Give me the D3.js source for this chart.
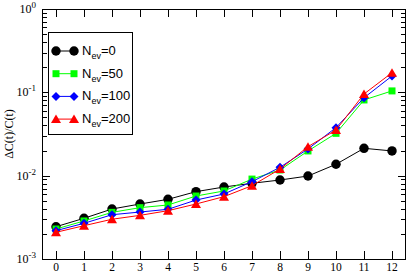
<!DOCTYPE html>
<html>
<head>
<meta charset="UTF-8">
<script src="https://cdn.jsdelivr.net/npm/d3@7"></script>
<style>
  body { margin: 0; background: #fff; }
  text { font-family: "Liberation Serif", serif; }
</style>
</head>
<body>
<svg width="409" height="274"></svg>
<script>
var steps = [0,1,2,3,4,5,6,7,8,9,10,11,12];
var nev0   = [2.44e-3,3.08e-3,3.98e-3,4.57e-3,5.2e-3,6.43e-3,7.31e-3,8.1e-3,8.87e-3,9.9e-3,1.37e-2,2.13e-2,1.98e-2];
var nev50  = [2.29e-3,2.86e-3,3.63e-3,4.13e-3,4.45e-3,5.7e-3,6.55e-3,9.1e-3,1.17e-2,1.98e-2,3.22e-2,8.1e-2,1.04e-1];
var nev100 = [2.19e-3,2.68e-3,3.4e-3,3.66e-3,3.95e-3,5.1e-3,6.03e-3,8.47e-3,1.26e-2,2.09e-2,3.77e-2,8.6e-2,1.57e-1];
var nev200 = [2.09e-3,2.51e-3,3.0e-3,3.34e-3,3.8e-3,4.57e-3,5.6e-3,7.59e-3,1.2e-2,2.23e-2,3.53e-2,9.55e-2,1.72e-1];
var seriesNames = ["0","50","100","200"];
var yTickExp = [-3,-2,-1,0];

var svg = d3.select("svg");
var marge = {top:9, bottom:15, left:42, right:3};
var W = 409 - marge.left - marge.right;
var H = 274 - marge.top - marge.bottom;
var g = svg.append("g").attr("transform","translate("+marge.left+","+marge.top+")");

var xScale = d3.scaleLinear().domain([-0.5,12.5]).range([0,W]);
var yScale = d3.scaleLog().domain([1e-3,1]).range([H,0]);

// minor log ticks
var minors = [];
yTickExp.slice(0,3).forEach(function(e){
  for (var k=2;k<=9;k++) minors.push(k*Math.pow(10,e));
});

var tk = g.append("g").attr("stroke","#000").attr("stroke-width",1);
steps.forEach(function(s){
  var x = Math.round(xScale(s))+0.5;
  tk.append("line").attr("x1",x).attr("x2",x).attr("y1",H).attr("y2",H-8);
  tk.append("line").attr("x1",x).attr("x2",x).attr("y1",0).attr("y2",8);
});
yTickExp.forEach(function(e){
  var y = Math.round(yScale(Math.pow(10,e)))+0.5;
  tk.append("line").attr("x1",0).attr("x2",8).attr("y1",y).attr("y2",y);
  tk.append("line").attr("x1",W).attr("x2",W-8).attr("y1",y).attr("y2",y);
});
minors.forEach(function(v){
  var y = Math.round(yScale(v))+0.5;
  tk.append("line").attr("x1",0).attr("x2",5).attr("y1",y).attr("y2",y);
  tk.append("line").attr("x1",W).attr("x2",W-5).attr("y1",y).attr("y2",y);
});

g.append("rect").attr("x",0.5).attr("y",0.5).attr("width",W-1).attr("height",H)
  .attr("fill","none").attr("stroke","#000").attr("stroke-width",1);

// tick labels
steps.forEach(function(s){
  g.append("text").attr("x",xScale(s)).attr("y",H+12)
    .attr("text-anchor","middle").attr("font-size",11.5).text(s);
});
yTickExp.forEach(function(e){
  var t = g.append("text").attr("x",-6).attr("y",yScale(Math.pow(10,e))+4)
    .attr("text-anchor","end").attr("font-size",12);
  t.append("tspan").text("10");
  t.append("tspan").attr("dy",-5).attr("font-size",9).text(e);
});

svg.append("text").attr("transform","translate(13,"+(marge.top+H/2)+") rotate(-90)")
  .attr("text-anchor","middle").attr("font-size",12).text("ΔC(t)/C(t)");

// series
var allSeries = [
  {name:seriesNames[0], vals:nev0,   color:"#000000", sym:"circle"},
  {name:seriesNames[1], vals:nev50,  color:"#00ff00", sym:"square"},
  {name:seriesNames[2], vals:nev100, color:"#0000ff", sym:"diamond"},
  {name:seriesNames[3], vals:nev200, color:"#ff0000", sym:"triangle"}
];
function symPath(type){
  if (type=="circle") return d3.symbol().type(d3.symbolCircle).size(70)();
  if (type=="square") return d3.symbol().type(d3.symbolSquare).size(49)();
  if (type=="diamond") return "M0,-4.5L4.5,0L0,4.5L-4.5,0Z";
  return "M0,-4.5L5,4L-5,4Z";
}
var line = d3.line().x(function(d,i){return xScale(steps[i]);}).y(function(d){return yScale(d);});

allSeries.forEach(function(s){
  g.append("path").datum(s.vals).attr("d",line).attr("fill","none")
    .attr("stroke",s.color).attr("stroke-width",1);
  g.selectAll(null).data(s.vals).enter().append("path")
    .attr("d",symPath(s.sym))
    .attr("transform",function(d,i){return "translate("+xScale(steps[i])+","+yScale(d)+")";})
    .attr("fill",s.color);
});

// legend
var lg = svg.append("g");
lg.append("rect").attr("x",48.5).attr("y",32.5).attr("width",84).attr("height",102)
  .attr("fill","#fff").attr("stroke","#000").attr("stroke-width",1);
allSeries.forEach(function(s,i){
  var y = 51 + i*22.7;
  lg.append("line").attr("x1",56).attr("x2",74).attr("y1",y).attr("y2",y)
    .attr("stroke",s.color).attr("stroke-width",1);
  [56,74].forEach(function(x){
    lg.append("path").attr("d",symPath(s.sym))
      .attr("transform","translate("+x+","+y+")").attr("fill",s.color);
  });
  var t = lg.append("text").attr("x",82).attr("y",y+4)
    .style("font-family","'Liberation Sans', Arial, sans-serif").attr("font-size",13);
  t.append("tspan").text("N");
  t.append("tspan").attr("dy",4).attr("font-size",9).text("ev");
  t.append("tspan").attr("dy",-4).text("="+s.name);
});
</script>
</body>
</html>
